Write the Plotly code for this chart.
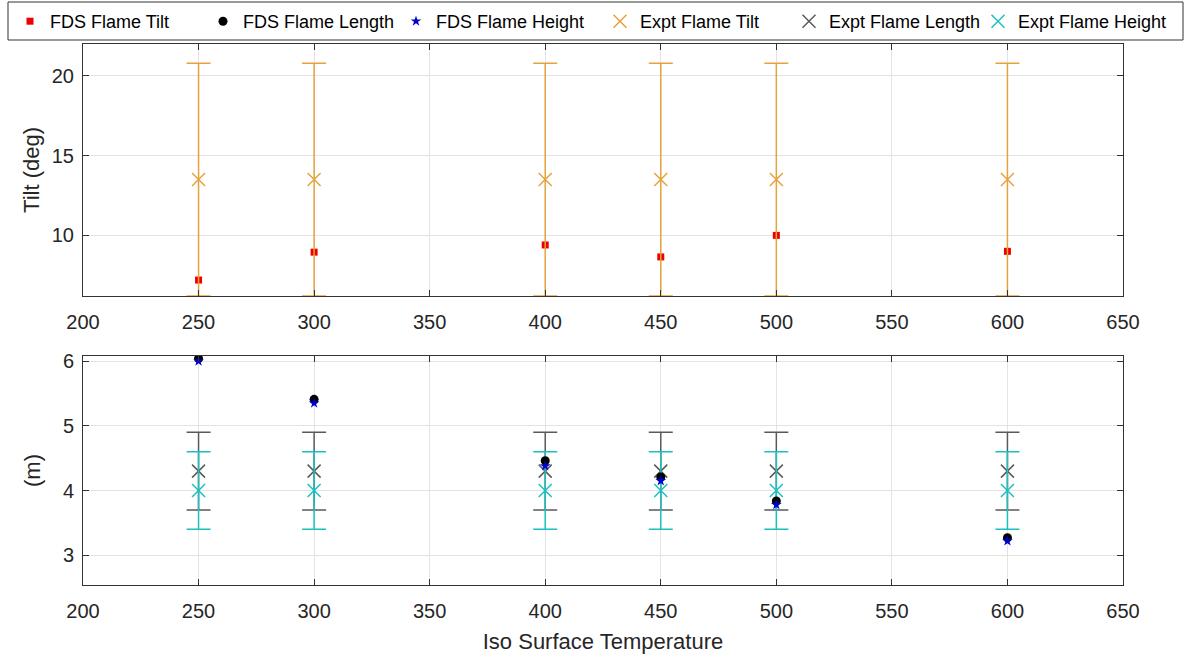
import plotly.graph_objects as go
from plotly.subplots import make_subplots

temps = [250, 300, 400, 450, 500, 600]
fds_tilt = [7.2, 8.95, 9.4, 8.65, 10.0, 9.0]
fds_length = [6.04, 5.41, 4.46, 4.21, 3.84, 3.27]
fds_height = [6.0, 5.35, 4.38, 4.15, 3.78, 3.22]
expt_tilt = [13.5] * 6
expt_tilt_err = [7.3] * 6
expt_length = [4.3] * 6
expt_length_err = [0.6] * 6
expt_height = [4.0] * 6
expt_height_err = [0.6] * 6
x_ticks = [200, 250, 300, 350, 400, 450, 500, 550, 600, 650]

FONT = "Liberation Sans, Arial, sans-serif"
ORANGE = "#E6A23C"
GRAY = "#5a5a5a"
CYAN = "#1CC0C0"

W, H = 1191, 659
ML, MR, MT, MB = 83, 68, 44, 74
PW, PH = W - ML - MR, H - MT - MB

def px_x(p):
    return (p - ML) / PW

def px_y(p):
    return (H - MB - p) / PH

fig = make_subplots(rows=2, cols=1, shared_xaxes=False, vertical_spacing=0.1)

fig.add_trace(go.Scatter(x=temps, y=fds_tilt, mode="markers", name="FDS Flame Tilt",
                         marker=dict(symbol="square", size=7, color="#EE0000"),
                         legend="legend", legendrank=1), row=1, col=1)
fig.add_trace(go.Scatter(x=temps, y=expt_tilt, mode="markers", name="Expt Flame Tilt",
                         marker=dict(symbol="x-thin-open", size=13, line=dict(color=ORANGE, width=1.5), color=ORANGE),
                         error_y=dict(type="data", array=expt_tilt_err, color=ORANGE, thickness=1.5, width=12),
                         legend="legend2", legendrank=1), row=1, col=1)
fig.add_trace(go.Scatter(x=temps, y=expt_length, mode="markers", name="Expt Flame Length",
                         marker=dict(symbol="x-thin-open", size=13, line=dict(color=GRAY, width=1.5), color=GRAY),
                         error_y=dict(type="data", array=expt_length_err, color=GRAY, thickness=1.5, width=12),
                         legend="legend2", legendrank=2), row=2, col=1)
fig.add_trace(go.Scatter(x=temps, y=expt_height, mode="markers", name="Expt Flame Height",
                         marker=dict(symbol="x-thin-open", size=13, line=dict(color=CYAN, width=1.5), color=CYAN),
                         error_y=dict(type="data", array=expt_height_err, color=CYAN, thickness=1.5, width=12),
                         legend="legend2", legendrank=3), row=2, col=1)
fig.add_trace(go.Scatter(x=temps, y=fds_length, mode="markers", name="FDS Flame Length",
                         marker=dict(symbol="circle", size=9, color="black"),
                         legend="legend", legendrank=2), row=2, col=1)
fig.add_trace(go.Scatter(x=temps, y=fds_height, mode="markers", name="FDS Flame Height",
                         marker=dict(symbol="star", size=8, color="#0000CC"),
                         legend="legend", legendrank=3), row=2, col=1)

axis_common = dict(showline=True, linecolor="#333333", linewidth=1, mirror="ticks",
                   ticks="inside", ticklen=6, tickcolor="#333333",
                   showgrid=True, gridcolor="#e3e3e3", gridwidth=1, zeroline=False,
                   tickfont=dict(size=20, color="#262626", family=FONT))

fig.update_xaxes(range=[200, 650], tickvals=x_ticks, ticklabelstandoff=8, **axis_common)
fig.update_xaxes(domain=[0, 1], row=1, col=1)
fig.update_xaxes(title=dict(text="Iso Surface Temperature", font=dict(size=22, color="#262626", family=FONT), standoff=12), row=2, col=1)
fig.update_yaxes(ticklabelstandoff=4, **axis_common)
fig.update_yaxes(range=[6.2, 22], tickvals=[10, 15, 20], domain=[px_y(296), 1.0],
                 title=dict(text="Tilt (deg)", font=dict(size=22, color="#262626", family=FONT), standoff=6), row=1, col=1)
fig.update_yaxes(range=[2.54, 6.08], tickvals=[3, 4, 5, 6], domain=[0.0, px_y(356)],
                 title=dict(text="(m)", font=dict(size=22, color="#262626", family=FONT), standoff=16), row=2, col=1)

leg_common = dict(orientation="h", xref="paper", yref="paper", xanchor="left",
                  y=px_y(40), yanchor="bottom", borderwidth=0, bgcolor="rgba(0,0,0,0)",
                  font=dict(size=18, color="black", family=FONT),
                  entrywidthmode="pixels", itemsizing="trace", tracegroupgap=0, traceorder="normal")

fig.update_layout(
    width=W, height=H,
    margin=dict(l=ML, r=MR, t=MT, b=MB, autoexpand=False),
    paper_bgcolor="white", plot_bgcolor="white",
    font=dict(family=FONT, color="#262626"),
    showlegend=True,
    legend=dict(x=px_x(10), entrywidth=148, **leg_common),
    legend2=dict(x=px_x(600), entrywidth=144, **leg_common),
    shapes=[dict(type="rect", xref="paper", yref="paper",
                 x0=px_x(8), x1=px_x(1183), y0=px_y(40), y1=px_y(2),
                 line=dict(color="#333333", width=1), fillcolor="rgba(0,0,0,0)", layer="above")],
)

fig.write_html("out.html")
